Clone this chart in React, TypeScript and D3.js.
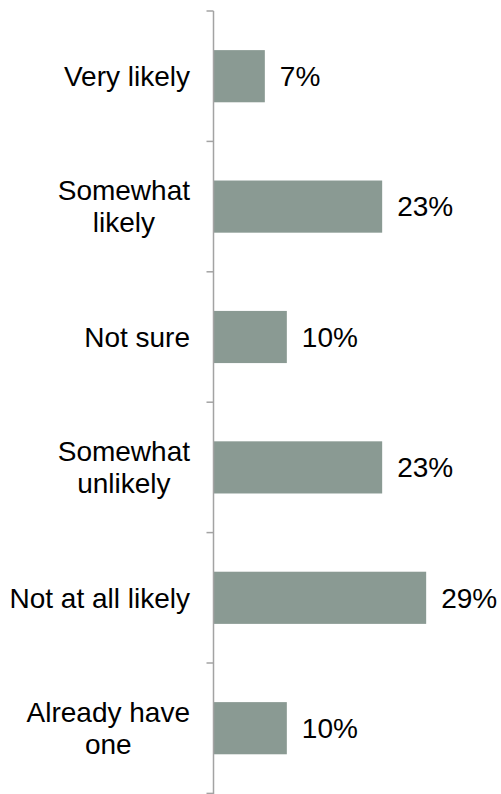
import React, { useEffect, useRef } from "react";
import * as d3 from "d3";

const categories: string[][] = [
  ["Very likely"],
  ["Somewhat", "likely"],
  ["Not sure"],
  ["Somewhat", "unlikely"],
  ["Not at all likely"],
  ["Already have", "one"],
];
const values: number[] = [7, 23, 10, 23, 29, 10];
const valueLabels: string[] = ["7%", "23%", "10%", "23%", "29%", "10%"];

const W = 501;
const H = 794;
const FONT = "'Liberation Sans', Arial, sans-serif";
const FS = 28;

export default function App() {
  const ref = useRef<SVGSVGElement | null>(null);

  useEffect(() => {
    const svg = d3.select(ref.current);
    svg.selectAll("*").remove();

    const axisX = 213.5;
    const top = 11;
    const bottom = 11 + 6 * 130.4;

    const y = d3
      .scaleBand<number>()
      .domain(d3.range(categories.length))
      .range([top, bottom])
      .paddingInner(0.6)
      .paddingOuter(0.3);
    const x = d3.scaleLinear().domain([0, 30]).range([axisX, axisX + 220]);

    // bars
    svg
      .append("g")
      .selectAll("rect")
      .data(values)
      .join("rect")
      .attr("x", x(0))
      .attr("y", (_, i) => y(i)!)
      .attr("width", (d) => x(d) - x(0))
      .attr("height", y.bandwidth())
      .attr("fill", "#8A9A93");

    // axis line and ticks
    const g = svg.append("g");
    g.append("line")
      .attr("x1", axisX)
      .attr("x2", axisX)
      .attr("y1", top)
      .attr("y2", H)
      .attr("stroke", "#A3A3A3")
      .attr("stroke-width", 1.5);
    const step = (bottom - top) / categories.length;
    const tickYs = d3.range(categories.length + 1).map((i) => top + i * step);
    g.selectAll("line.tick")
      .data(tickYs)
      .join("line")
      .attr("class", "tick")
      .attr("x1", axisX - 7)
      .attr("x2", axisX)
      .attr("y1", (d) => d)
      .attr("y2", (d) => d)
      .attr("stroke", "#A3A3A3")
      .attr("stroke-width", 1.5);

    // value labels
    svg
      .append("g")
      .selectAll("text")
      .data(values)
      .join("text")
      .attr("x", (d) => x(d) + 15)
      .attr("y", (_, i) => y(i)! + y.bandwidth() / 2)
      .attr("dy", "0.35em")
      .attr("font-family", FONT)
      .attr("font-size", FS)
      .attr("fill", "#000")
      .text((_, i) => valueLabels[i]);

    // category labels (lines centred, block right-aligned)
    const labelRight = 190;
    const lineH = 32;
    const cg = svg.append("g");
    categories.forEach((lines, i) => {
      const cy = y(i)! + y.bandwidth() / 2;
      const t = cg
        .append("text")
        .attr("font-family", FONT)
        .attr("font-size", FS)
        .attr("fill", "#000");
      const tspans = lines.map((ln, j) =>
        t
          .append("tspan")
          .attr("y", cy + (j - (lines.length - 1) / 2) * lineH)
          .attr("dy", "0.35em")
          .text(ln)
      );
      const widths = tspans.map((ts) => (ts.node() as SVGTSpanElement).getComputedTextLength());
      const maxW = d3.max(widths) || 0;
      const cx = labelRight - maxW / 2;
      tspans.forEach((ts) => ts.attr("x", cx).attr("text-anchor", "middle"));
    });
  }, []);

  return (
    <svg
      ref={ref}
      width={W}
      height={H}
      style={{ position: "absolute", left: 0, top: 0, background: "#fff" }}
    />
  );
}
